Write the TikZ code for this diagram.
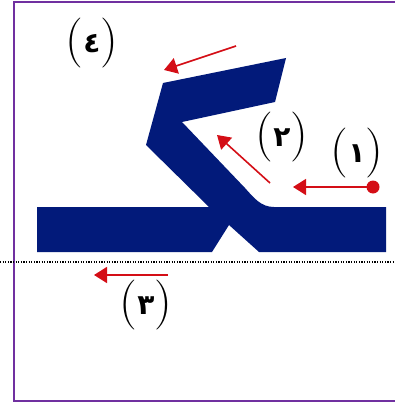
\documentclass[tikz,border=0pt]{standalone}
\usepackage{fontspec}
\newfontfamily\arabicfont[Script=Arabic]{DejaVu Sans}
\usetikzlibrary{arrows.meta}
\definecolor{glyphblue}{RGB}{2,26,122}
\definecolor{strokered}{RGB}{212,14,22}
\definecolor{framepurple}{RGB}{112,48,160}
\newcommand{\numlab}[1]{{\fontsize{50}{50}\selectfont(}\raisebox{3pt}{\arabicfont\bfseries\fontsize{28}{28}\selectfont #1}{\fontsize{50}{50}\selectfont)}}

\begin{document}
\begin{tikzpicture}[x=1pt,y=-1pt,
  strokearrow/.style={draw=strokered,line width=1.6pt,-{Triangle[length=13pt,width=16pt]}},
  numlabel/.style={inner sep=0pt}]
\useasboundingbox (0,0) rectangle (395,404);
% Frame
\draw [framepurple,line width=1.8pt] (400,2) -- (14,2) -- (14,401) -- (400,401);
% Glyph
\fill [glyphblue] (37,207) -- (209,207) -- (146,145) -- (163,83) -- (286,58) -- (275,102) -- (182,122)
  -- (245,188) .. controls (254,198) and (261,207) .. (274,207) -- (386,207) -- (386,252)
  -- (259,252) -- (229,225) -- (212,252) -- (37,252) -- cycle;
% Base line
\coordinate (baseL) at (0,262);
\coordinate (baseR) at (395,262);
\draw [line width=1.2pt,dash pattern=on 1.2pt off 1.4pt] (baseL) -- (baseR);
% Stroke arrows
\coordinate (s1) at (373,187); \coordinate (e1) at (293,187);
\coordinate (s2) at (270,183); \coordinate (e2) at (217,135);
\coordinate (s3) at (168,275); \coordinate (e3) at (94,275);
\coordinate (s4) at (236,46);  \coordinate (e4) at (164,70);
\fill [strokered] (s1) circle (6.5pt);
\draw [strokearrow] (s1) -- (e1);
\draw [strokearrow] (s2) -- (e2);
\draw [strokearrow] (s3) -- (e3);
\draw [strokearrow] (s4) -- (e4);
% Text Node
\node [numlabel] (lab1) at (357,153) {\numlab{١}};
\node [numlabel] (lab2) at (282,137) {\numlab{٢}};
\node [numlabel] (lab3) at (146,305) {\numlab{٣}};
\node [numlabel] (lab4) at (92,43) {\numlab{٤}};
\end{tikzpicture}
\end{document}
